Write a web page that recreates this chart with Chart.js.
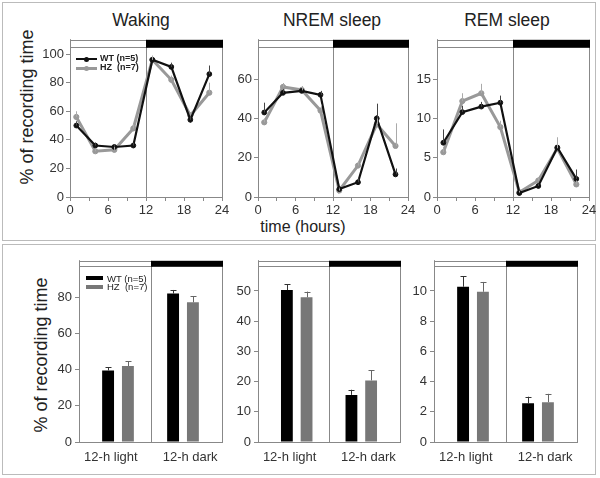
<!DOCTYPE html>
<html>
<head>
<meta charset="utf-8">
<script src="https://cdn.jsdelivr.net/npm/chart.js@4.4.0/dist/chart.umd.min.js"></script>
<style>
    body { margin: 0; background: #fff; }
    #wrap { position: relative; width: 600px; height: 478px; overflow: hidden; background: #fff;
            font-family: "Liberation Sans", Arial, sans-serif; color: #222; }
    .box { position: absolute; border: 1px solid #bbb; }
    .cv { position: absolute; }
    .txt { position: absolute; white-space: nowrap; line-height: 1; }
    .ttl { font-size: 17.5px; transform: translateX(-50%); }
    .ylab { font-size: 18px; transform: translate(-50%, -50%) rotate(-90deg); }
    .lg1 { font-size: 9px; font-weight: bold; }
    .lg2 { font-size: 9.5px; }
    .sw { position: absolute; }
</style>
</head>
<body>
<div id="wrap">
    <div class="box" style="left:2px;top:2px;width:592px;height:237px"></div>
    <div class="box" style="left:2px;top:244px;width:592px;height:229px"></div>

    <!-- top row -->
    <div class="txt ttl" style="left:141px;top:12px">Waking</div>
    <div class="txt ttl" style="left:332px;top:12px">NREM sleep</div>
    <div class="txt ttl" style="left:507px;top:12px">REM sleep</div>
    <div class="txt ylab" style="left:27px;top:107px">% of recording time</div>
    <div class="txt" style="left:303px;top:219px;font-size:16px;transform:translateX(-50%)">time (hours)</div>

    <canvas id="c1" class="cv" style="left:30px;top:30px" width="204" height="190"></canvas>
    <canvas id="c2" class="cv" style="left:218px;top:30px" width="202" height="190"></canvas>
    <canvas id="c3" class="cv" style="left:397px;top:30px" width="204" height="190"></canvas>

    <!-- top legend -->
    <div class="sw" style="left:76px;top:58px;width:21px;height:2px;background:#111"></div>
    <div class="sw" style="left:84px;top:56.5px;width:5px;height:5px;border-radius:50%;background:#111"></div>
    <div class="sw" style="left:76px;top:67px;width:21px;height:2.5px;background:#999"></div>
    <div class="sw" style="left:84px;top:65.5px;width:5px;height:5px;border-radius:50%;background:#999"></div>
    <div class="txt lg1" style="left:100px;top:54px">WT (n=5)</div>
    <div class="txt lg1" style="left:100px;top:63px">HZ&nbsp;&nbsp;(n=7)</div>

    <!-- bottom row -->
    <div class="txt ylab" style="left:41px;top:355px">% of recording time</div>
    <canvas id="c4" class="cv" style="left:35px;top:250px" width="205" height="215"></canvas>
    <canvas id="c5" class="cv" style="left:218px;top:250px" width="200" height="215"></canvas>
    <canvas id="c6" class="cv" style="left:395px;top:250px" width="200" height="215"></canvas>

    <!-- bottom legend -->
    <div class="sw" style="left:86px;top:276px;width:17px;height:4px;background:#000"></div>
    <div class="sw" style="left:86px;top:284.5px;width:17px;height:4px;background:#777"></div>
    <div class="txt lg2" style="left:107px;top:273.5px">WT (n=5)</div>
    <div class="txt lg2" style="left:107px;top:282px">HZ&nbsp;&nbsp;(n=7)</div>
</div>

<script>
// Time course (3-h bins)
const hours = [1, 4, 7, 10, 13, 16, 19, 22];
const hourTicks = [0, 3, 6, 9, 12, 15, 18, 21, 24];

const wakeWT = [50, 36, 35, 36, 96, 91, 54, 86];
const wakeHZ = [56, 32, 33, 48, 96, 82, 57, 73];
const wakeWTerr = [3, 2, 2, 2, 2, 3, 3, 6];
const wakeHZerr = [4, 2, 2, 3, 3, 3, 2, 7];

const nremWT = [43, 53, 54, 52, 4, 7.5, 40, 11.5];
const nremHZ = [38, 56, 54.5, 44, 3.3, 16, 37, 26];
const nremWTerr = [5, 2, 1.5, 2, 1, 2, 7.5, 3];
const nremHZerr = [2, 2, 2, 3, 1, 2, 3, 11.5];

const remWT = [6.9, 10.8, 11.5, 12, 0.5, 1.4, 6.3, 2.3];
const remHZ = [5.7, 12.2, 13.2, 8.9, 0.6, 2.1, 6.2, 1.6];
const remWTerr = [1.7, 0.8, 0.6, 0.9, 0.2, 0.3, 0.8, 1.2];
const remHZerr = [0.7, 1.0, 1.2, 0.8, 0.2, 0.4, 1.4, 0.5];

const wakeTicks = [0, 20, 40, 60, 80, 100];
const nremTicks = [0, 20, 40, 60];
const remTicks = [0, 5, 10, 15];

// 12-h totals
const periods = ['12-h light', '12-h dark'];
const wakeBarWT = [39.5, 81.9];
const wakeBarHZ = [41.9, 77.1];
const wakeBarWTerr = [1.8, 2.0];
const wakeBarHZerr = [2.6, 3.3];
const nremBarWT = [50.3, 15.6];
const nremBarHZ = [47.9, 20.4];
const nremBarWTerr = [1.9, 1.7];
const nremBarHZerr = [1.9, 3.4];
const remBarWT = [10.28, 2.57];
const remBarHZ = [9.95, 2.64];
const remBarWTerr = [0.7, 0.43];
const remBarHZerr = [0.65, 0.55];

const wakeBarTicks = [0, 20, 40, 60, 80];
const nremBarTicks = [0, 10, 20, 30, 40, 50];
const remBarTicks = [0, 2, 4, 6, 8, 10];

// light/dark indicator, divider line and plot box
const frame = {
    id: 'frame',
    beforeDatasetsDraw(chart, args, opts) {
        const { ctx, chartArea: a, scales: { x } } = chart;
        const d = Math.round(x.getPixelForValue(opts.divider)) + 0.5;
        const h = opts.barH;
        ctx.save();
        ctx.strokeStyle = '#888';
        ctx.lineWidth = 1;
        ctx.beginPath();
        ctx.moveTo(Math.round(a.right) + 0.5, a.top);
        ctx.lineTo(Math.round(a.right) + 0.5, a.bottom);
        ctx.moveTo(d, a.top);
        ctx.lineTo(d, a.bottom);
        ctx.stroke();
        ctx.fillStyle = '#fff';
        ctx.fillRect(a.left, a.top, d - a.left, h);
        ctx.strokeRect(Math.round(a.left) + 0.5, Math.round(a.top) + 0.5, d - a.left, h);
        ctx.fillStyle = '#000';
        ctx.fillRect(d - 0.5, a.top, a.right - d + 1.5, h + 1);
        ctx.restore();
    }
};

// upward error bars
const errBars = {
    id: 'errBars',
    afterDatasetsDraw(chart, args, opts) {
        const ctx = chart.ctx;
        const y = chart.scales.y;
        chart.data.datasets.forEach((ds, i) => {
            const meta = chart.getDatasetMeta(i);
            meta.data.forEach((el, j) => {
                const v = ds.data[j].y;
                const top = y.getPixelForValue(v + ds.err[j]);
                const base = y.getPixelForValue(v);
                const cx = Math.round(el.x) + 0.5;
                ctx.save();
                ctx.strokeStyle = ds.errColor;
                ctx.lineWidth = 1;
                ctx.beginPath();
                ctx.moveTo(cx, base);
                ctx.lineTo(cx, top);
                if (opts.cap) {
                    ctx.moveTo(cx - opts.cap, Math.round(top) + 0.5);
                    ctx.lineTo(cx + opts.cap, Math.round(top) + 0.5);
                }
                ctx.stroke();
                ctx.restore();
            });
        });
    }
};

const axisGray = '#888';
const tickFont = { family: '"Liberation Sans", Arial, sans-serif', size: 13 };

function lineChart(id, wt, hz, wtErr, hzErr, yMax, yTicks, padRight) {
    return new Chart(document.getElementById(id), {
        type: 'line',
        data: {
            datasets: [{
                label: 'WT (n=5)',
                data: hours.map((h, i) => ({ x: h, y: wt[i] })),
                borderColor: '#111',
                backgroundColor: '#111',
                borderWidth: 2.2,
                pointRadius: 2.4,
                pointBorderWidth: 1,
                err: wtErr,
                errColor: '#444'
            }, {
                label: 'HZ (n=7)',
                data: hours.map((h, i) => ({ x: h, y: hz[i] })),
                borderColor: '#999',
                backgroundColor: '#999',
                borderWidth: 3,
                pointRadius: 2.6,
                pointBorderWidth: 1,
                err: hzErr,
                errColor: '#aaa'
            }]
        },
        options: {
            responsive: false,
            animation: false,
            events: [],
            layout: { padding: { top: 6, right: padRight, left: 0, bottom: 0 } },
            plugins: {
                legend: { display: false },
                tooltip: { enabled: false },
                frame: { divider: 12, barH: 7 },
                errBars: { cap: 0 }
            },
            scales: {
                x: {
                    type: 'linear', min: 0, max: 24,
                    afterBuildTicks: s => { s.ticks = hourTicks.map(v => ({ value: v })); },
                    afterFit: s => { s.height = 23; },
                    grid: { drawOnChartArea: false, tickLength: 4, color: axisGray },
                    border: { color: axisGray },
                    ticks: { callback: v => (v % 6 === 0 ? v : ''), font: tickFont, color: '#333',
                             padding: 2, maxRotation: 0, autoSkip: false }
                },
                y: {
                    min: 0, max: yMax,
                    afterBuildTicks: s => { s.ticks = yTicks.map(v => ({ value: v })); },
                    afterFit: s => { s.width = 40; },
                    grid: { drawOnChartArea: false, tickLength: 4, color: axisGray },
                    border: { color: axisGray },
                    ticks: { font: tickFont, color: '#333', padding: 2 }
                }
            }
        },
        plugins: [frame, errBars]
    });
}

function barChart(id, wt, hz, wtErr, hzErr, yMax, yTicks, yWidth) {
    return new Chart(document.getElementById(id), {
        type: 'bar',
        data: {
            datasets: [{
                label: 'WT (n=5)',
                data: periods.map((p, i) => ({ x: i, y: wt[i] })),
                backgroundColor: '#000',
                err: wtErr,
                errColor: '#333'
            }, {
                label: 'HZ (n=7)',
                data: periods.map((p, i) => ({ x: i, y: hz[i] })),
                backgroundColor: '#777',
                err: hzErr,
                errColor: '#666'
            }]
        },
        options: {
            responsive: false,
            animation: false,
            events: [],
            layout: { padding: { top: 10, right: 18, left: 0, bottom: 0 } },
            datasets: { bar: { categoryPercentage: 0.61, barPercentage: 0.6 } },
            plugins: {
                legend: { display: false },
                tooltip: { enabled: false },
                frame: { divider: 0.5, barH: 5 },
                errBars: { cap: 3 }
            },
            scales: {
                x: {
                    type: 'linear', min: -0.6, max: 1.6, offset: false,
                    afterBuildTicks: s => { s.ticks = [-0.11, 1.11].map(v => ({ value: v })); },
                    afterFit: s => { s.height = 23; },
                    grid: { display: true, drawOnChartArea: false, drawTicks: false, offset: false, color: axisGray },
                    border: { color: axisGray },
                    ticks: { callback: (v, i) => periods[i], font: tickFont, color: '#333',
                             padding: 8, maxRotation: 0, autoSkip: false }
                },
                y: {
                    min: 0, max: yMax,
                    afterBuildTicks: s => { s.ticks = yTicks.map(v => ({ value: v })); },
                    afterFit: s => { s.width = yWidth; },
                    grid: { drawOnChartArea: false, tickLength: 4, color: axisGray },
                    border: { color: axisGray },
                    ticks: { font: tickFont, color: '#333', padding: 3 }
                }
            }
        },
        plugins: [frame, errBars]
    });
}

lineChart('c1', wakeWT, wakeHZ, wakeWTerr, wakeHZerr, 110, wakeTicks, 12);
lineChart('c2', nremWT, nremHZ, nremWTerr, nremHZerr, 80, nremTicks, 12);
lineChart('c3', remWT, remHZ, remWTerr, remHZerr, 20, remTicks, 12);

barChart('c4', wakeBarWT, wakeBarHZ, wakeBarWTerr, wakeBarHZerr, 100, wakeBarTicks, 44);
barChart('c5', nremBarWT, nremBarHZ, nremBarWTerr, nremBarHZerr, 60, nremBarTicks, 40);
barChart('c6', remBarWT, remBarHZ, remBarWTerr, remBarHZerr, 12, remBarTicks, 39);
</script>
</body>
</html>
